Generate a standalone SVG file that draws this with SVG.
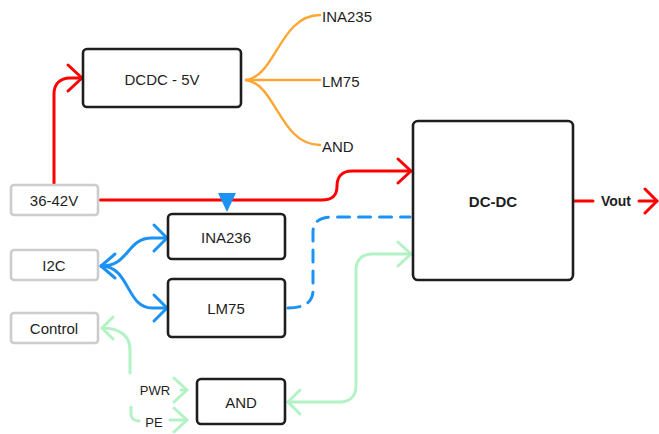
<svg xmlns="http://www.w3.org/2000/svg" width="659" height="434" viewBox="0 0 659 434">
<style>
.node{fill:#fff;stroke:#1e1e1e;stroke-width:2.6}
.io{fill:#fff;stroke:#cccccc;stroke-width:2.6}
text{font-family:"Liberation Sans",Arial,sans-serif;font-size:15px;fill:#1e1e1e;text-anchor:middle;dominant-baseline:central}
.small{font-size:13px}
.bold{font-weight:bold}
.lbl{text-anchor:start}
.c{fill:none;stroke-width:3;stroke-linecap:round;stroke-linejoin:round}
.red{stroke:#ff0000}
.org{stroke:#ffa532;stroke-width:2.4}
.blu{stroke:#1c92f5}
.grn{stroke:#b2f2c5}
</style>
<rect width="659" height="434" fill="#fff"/>
<g id="connectors">
<!-- red: 36-42V to DCDC -->
<path class="c red" d="M54,185 L54,94 C54,84 60,78 70,78 L82,78"/>
<path class="c red" d="M68,65 L82,78 L68,91"/>
<!-- red: 36-42V to DC-DC -->
<path class="c red" d="M100,200 L322,200 C333,200 337,195 337,186 C337,177 342,171 352,171 L411,171"/>
<path class="c red" d="M398,159 L411,171 L398,183"/>
<!-- red: Vout -->
<path class="c red" d="M574,201 L593,201"/>
<path class="c red" d="M639,201 L657,201"/>
<path class="c red" d="M645,189 L657,201 L645,213"/>
<!-- orange fan -->
<path class="c org" d="M246,80 C276,76 280,15 320,15"/>
<path class="c org" d="M246,80 L320,80"/>
<path class="c org" d="M246,80 C276,84 280,145 320,145"/>
<!-- blue triangle -->
<polygon points="218,193 236,193 227,212" fill="#1c92f5"/>
<!-- blue I2C -->
<path class="c blu" d="M101,266 C130,266 126,238 152,238 L167,238"/>
<path class="c blu" d="M154,225 L167,238 L154,251"/>
<path class="c blu" d="M101,266 C130,266 126,308 152,308 L167,308"/>
<path class="c blu" d="M154,295 L167,308 L154,321"/>
<path class="c blu" d="M115,254 L101,266 L115,278"/>
<!-- blue dashed LM75 to DC-DC -->
<path class="c blu" stroke-dasharray="12 9" d="M288,308 C305,308 313,302 313,290 L313,232 C313,222 320,217 332,217 L410,217"/>
<!-- green Control -->
<path class="c grn" d="M102,328 C120,328 130,336 130,350 L130,373"/>
<path class="c grn" d="M113,317 L102,328 L113,339"/>
<path class="c grn" d="M181,390 L187,390"/>
<path class="c grn" d="M174,378 L187,390 L174,402"/>
<path class="c grn" d="M131,407 L131,414 C131,418 134,421 139,421"/>
<path class="c grn" d="M170,420 L187,420"/>
<path class="c grn" d="M174,408 L187,420 L174,432"/>
<!-- green AND to DC-DC -->
<path class="c grn" d="M288,402 L340,402 C350,402 356,396 356,386 L356,270 C356,260 362,254 372,254 L411,254"/>
<path class="c grn" d="M398,242 L411,254 L398,266"/>
<path class="c grn" d="M300,390 L288,402 L300,414"/>
</g>
<g id="n-dcdc5v"><rect class="node" x="83" y="49" width="158" height="58" rx="4"/><text x="162" y="79">DCDC - 5V</text></g>
<g id="n-vin"><rect class="io" x="11" y="185" width="87" height="30" rx="3"/><text x="54" y="200">36-42V</text></g>
<g id="n-i2c"><rect class="io" x="11" y="250" width="87" height="30" rx="3"/><text x="54" y="265">I2C</text></g>
<g id="n-control"><rect class="io" x="11" y="313" width="87" height="30" rx="3"/><text x="54" y="328">Control</text></g>
<g id="n-ina236"><rect class="node" x="168" y="214" width="117" height="45" rx="4"/><text x="226" y="237">INA236</text></g>
<g id="n-lm75"><rect class="node" x="168" y="279" width="117" height="58" rx="4"/><text x="226" y="308">LM75</text></g>
<g id="n-and"><rect class="node" x="197" y="379" width="88" height="45" rx="4"/><text x="241" y="402">AND</text></g>
<g id="n-dcdc"><rect class="node" x="413" y="121" width="160" height="159" rx="5"/><text class="bold" x="493" y="201">DC-DC</text></g>
<g id="labels">
<text class="lbl" x="322" y="16">INA235</text>
<text class="lbl" x="322" y="81">LM75</text>
<text class="lbl" x="322" y="146">AND</text>
<text class="bold" x="616" y="201" style="font-size:14px">Vout</text>
<text class="small" x="155" y="390">PWR</text>
<text class="small" x="154" y="422">PE</text>
</g>
</svg>
